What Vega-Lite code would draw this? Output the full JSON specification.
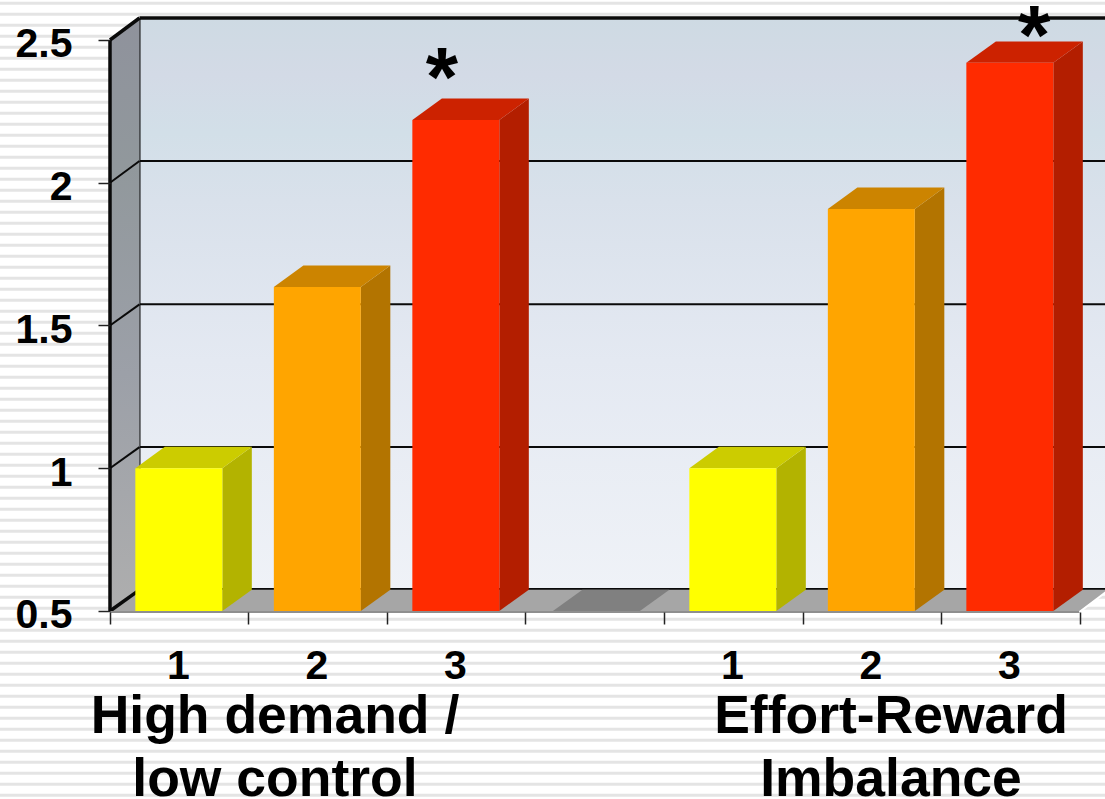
{
  "$schema": "https://vega.github.io/schema/vega-lite/v6.json",
  "width": 1105,
  "height": 799,
  "autosize": {"type": "none"},
  "padding": 0,
  "background": "#ffffff",
  "view": {"stroke": null},
  "config": {"font": "Liberation Sans", "text": {"font": "Liberation Sans"}},
  "datasets": {
    "stripes": [
      {"v":2.6285},{"v":2.59},{"v":2.5514},{"v":2.5129},{"v":2.4744},{"v":2.4359},{"v":2.3973},{"v":2.3588},{"v":2.3203},{"v":2.2817},
      {"v":2.2432},{"v":2.2047},{"v":2.1661},{"v":2.1276},{"v":2.0891},{"v":2.0506},{"v":2.012},{"v":1.9735},{"v":1.935},{"v":1.8964},
      {"v":1.8579},{"v":1.8194},{"v":1.7809},{"v":1.7423},{"v":1.7038},{"v":1.6653},{"v":1.6267},{"v":1.5882},{"v":1.5497},{"v":1.5111},
      {"v":1.4726},{"v":1.4341},{"v":1.3956},{"v":1.357},{"v":1.3185},{"v":1.28},{"v":1.2414},{"v":1.2029},{"v":1.1644},{"v":1.1258},
      {"v":1.0873},{"v":1.0488},{"v":1.0103},{"v":0.9717},{"v":0.9332},{"v":0.8947},{"v":0.8561},{"v":0.8176},{"v":0.7791},{"v":0.7405},
      {"v":0.702},{"v":0.6635},{"v":0.625},{"v":0.5864},{"v":0.5479},{"v":0.5094},{"v":0.4708},{"v":0.4323},{"v":0.3938},{"v":0.3552},
      {"v":0.3167},{"v":0.2782},{"v":0.2397},{"v":0.2011},{"v":0.1626},{"v":0.1241},{"v":0.0855},{"v":0.047},{"v":0.0085},{"v":-0.03},
      {"v":-0.0686},{"v":-0.1071},{"v":-0.1456}
    ],
    "frame": [
      {"x":0.213,"x2":7.1841,"y":0.574,"y2":0.574,"line":"edge"},
      {"x":0.213,"x2":7.1841,"y":1.074,"y2":1.074,"line":"thin"},
      {"x":0.213,"x2":7.1841,"y":1.574,"y2":1.574,"line":"thin"},
      {"x":0.213,"x2":7.1841,"y":2.076,"y2":2.076,"line":"thin"},
      {"x":0.213,"x2":7.1841,"y":2.577,"y2":2.577,"line":"edge"},
      {"x":0.213,"x2":0.213,"y":0.574,"y2":2.577,"line":"thin"}
    ],
    "wallEdges": [
      {"x":0,"x2":0.213,"y":0.5,"y2":0.574,"line":"edge"},
      {"x":0,"x2":0.213,"y":1,"y2":1.074,"line":"thin"},
      {"x":0,"x2":0.213,"y":1.5,"y2":1.574,"line":"thin"},
      {"x":0,"x2":0.213,"y":2,"y2":2.076,"line":"thin"},
      {"x":0,"x2":0.213,"y":2.5,"y2":2.577,"line":"edge"},
      {"x":0,"x2":0,"y":0.5,"y2":2.5,"line":"edge"}
    ],
    "bars": [
      {"bar":"a1","x":0.183,"x2":0.811,"value":1,"shade":"low front"},
      {"bar":"a2","x":1.183,"x2":1.811,"value":1.635,"shade":"mid front"},
      {"bar":"a3","x":2.183,"x2":2.811,"value":2.22,"shade":"high front"},
      {"bar":"b1","x":4.183,"x2":4.811,"value":1,"shade":"low front"},
      {"bar":"b2","x":5.183,"x2":5.811,"value":1.908,"shade":"mid front"},
      {"bar":"b3","x":6.183,"x2":6.811,"value":2.42,"shade":"high front"}
    ],
    "sides": [
      {"bar":"a1","x":0.811,"lo":0.5,"hi":1,"shade":"low side"},
      {"bar":"a1","x":1.024,"lo":0.574,"hi":1.075,"shade":"low side"},
      {"bar":"a2","x":1.811,"lo":0.5,"hi":1.635,"shade":"mid side"},
      {"bar":"a2","x":2.024,"lo":0.574,"hi":1.71,"shade":"mid side"},
      {"bar":"a3","x":2.811,"lo":0.5,"hi":2.22,"shade":"high side"},
      {"bar":"a3","x":3.024,"lo":0.574,"hi":2.295,"shade":"high side"},
      {"bar":"b1","x":4.811,"lo":0.5,"hi":1,"shade":"low side"},
      {"bar":"b1","x":5.024,"lo":0.574,"hi":1.075,"shade":"low side"},
      {"bar":"b2","x":5.811,"lo":0.5,"hi":1.908,"shade":"mid side"},
      {"bar":"b2","x":6.024,"lo":0.574,"hi":1.983,"shade":"mid side"},
      {"bar":"b3","x":6.811,"lo":0.5,"hi":2.42,"shade":"high side"},
      {"bar":"b3","x":7.024,"lo":0.574,"hi":2.495,"shade":"high side"}
    ],
    "tops": [
      {"bar":"a1","y":1,"x":0.183,"x2":0.811,"shade":"low top"},
      {"bar":"a1","y":1.075,"x":0.396,"x2":1.024,"shade":"low top"},
      {"bar":"a2","y":1.635,"x":1.183,"x2":1.811,"shade":"mid top"},
      {"bar":"a2","y":1.71,"x":1.396,"x2":2.024,"shade":"mid top"},
      {"bar":"a3","y":2.22,"x":2.183,"x2":2.811,"shade":"high top"},
      {"bar":"a3","y":2.295,"x":2.396,"x2":3.024,"shade":"high top"},
      {"bar":"gap","y":0.5,"x":3.198,"x2":3.826,"shade":"gap top"},
      {"bar":"gap","y":0.574,"x":3.411,"x2":4.039,"shade":"gap top"},
      {"bar":"b1","y":1,"x":4.183,"x2":4.811,"shade":"low top"},
      {"bar":"b1","y":1.075,"x":4.396,"x2":5.024,"shade":"low top"},
      {"bar":"b2","y":1.908,"x":5.183,"x2":5.811,"shade":"mid top"},
      {"bar":"b2","y":1.983,"x":5.396,"x2":6.024,"shade":"mid top"},
      {"bar":"b3","y":2.42,"x":6.183,"x2":6.811,"shade":"high top"},
      {"bar":"b3","y":2.495,"x":6.396,"x2":7.024,"shade":"high top"}
    ]
  },
  "layer": [
    {
      "data": {"name": "stripes"},
      "mark": {"type": "rule", "color": "#e4e4e4", "strokeWidth": 3},
      "encoding": {
        "y": {
          "field": "v", "type": "quantitative",
          "scale": {"domain": [-0.1585, 2.6401], "nice": false, "zero": false},
          "axis": {
            "title": null, "orient": "left", "offset": -110, "zindex": 1,
            "values": [0.5, 1, 1.5, 2, 2.5], "format": "~g",
            "domain": false, "grid": false,
            "tickSize": 12, "tickWidth": 1.5, "tickColor": "#222222",
            "labelFont": "Liberation Sans", "labelFontWeight": "bold", "labelFontSize": 41,
            "labelColor": "#000000", "labelPadding": 26, "labelOffset": 5,
            "labelOverlap": false, "labelFlush": false, "labelBound": false
          }
        }
      }
    },
    {
      "data": {"values": [{"x": 0.213, "x2": 7.1841, "y": 0.574, "y2": 2.577}]},
      "mark": {
        "type": "rect",
        "color": {
          "gradient": "linear", "x1": 0, "y1": 0, "x2": 0, "y2": 1,
          "stops": [
            {"offset": 0, "color": "#cedae3"},
            {"offset": 0.1, "color": "#d3dae6"},
            {"offset": 0.2, "color": "#d2dfe8"},
            {"offset": 0.32, "color": "#d9e1eb"},
            {"offset": 0.6, "color": "#e4e9f2"},
            {"offset": 1, "color": "#eff2f7"}
          ]
        }
      },
      "encoding": {
        "x": {
          "field": "x", "type": "quantitative",
          "scale": {"domain": [-0.7942, 7.1841], "nice": false, "zero": false},
          "axis": {
            "title": null, "orient": "bottom", "offset": -187, "zindex": 1,
            "values": [0, 1, 2, 3, 4, 5, 6, 7],
            "labelExpr": "datum.value % 4 == 3 ? '' : '' + (datum.value % 4 + 1)",
            "domain": false, "grid": false,
            "tickSize": 12, "tickWidth": 1.5, "tickColor": "#222222",
            "labelFont": "Liberation Sans", "labelFontWeight": "bold", "labelFontSize": 41,
            "labelColor": "#000000", "labelBaseline": "alphabetic", "labelPadding": 54,
            "labelOffset": 68, "labelOverlap": false, "labelFlush": false, "labelBound": false
          }
        },
        "x2": {"field": "x2"},
        "y": {"field": "y", "type": "quantitative", "axis": {"title": null}, "scale": {"domain": [-0.1585, 2.6401], "nice": false, "zero": false}},
        "y2": {"field": "y2"}
      }
    },
    {
      "data": {"name": "frame"},
      "mark": {"type": "rule", "color": "#0a0a0a"},
      "encoding": {
        "x": {"field": "x", "type": "quantitative", "axis": {"title": null}, "scale": {"domain": [-0.7942, 7.1841], "nice": false, "zero": false}},
        "x2": {"field": "x2"},
        "y": {"field": "y", "type": "quantitative", "axis": {"title": null}, "scale": {"domain": [-0.1585, 2.6401], "nice": false, "zero": false}},
        "y2": {"field": "y2"},
        "strokeWidth": {"field": "line", "type": "nominal", "legend": null, "scale": {"domain": ["thin", "edge"], "range": [2, 3.5]}}
      }
    },
    {
      "data": {"values": [
        {"x": 0, "lo": 0.5, "hi": 2.5},
        {"x": 0.213, "lo": 0.574, "hi": 2.577}
      ]},
      "mark": {
        "type": "area",
        "color": {
          "gradient": "linear", "x1": 0, "y1": 0, "x2": 0, "y2": 1,
          "stops": [
            {"offset": 0, "color": "#8f929c"},
            {"offset": 0.25, "color": "#91989c"},
            {"offset": 0.6, "color": "#9ca0a8"},
            {"offset": 1, "color": "#aeaeae"}
          ]
        }
      },
      "encoding": {
        "x": {"field": "x", "type": "quantitative", "axis": {"title": null}, "scale": {"domain": [-0.7942, 7.1841], "nice": false, "zero": false}},
        "y": {"field": "lo", "type": "quantitative", "axis": {"title": null}, "scale": {"domain": [-0.1585, 2.6401], "nice": false, "zero": false}},
        "y2": {"field": "hi"}
      }
    },
    {
      "data": {"values": [
        {"y": 0.5, "x": 0, "x2": 7},
        {"y": 0.574, "x": 0.213, "x2": 7.213}
      ]},
      "mark": {"type": "area", "orient": "horizontal", "color": "#a6a6a6", "clip": true},
      "encoding": {
        "y": {"field": "y", "type": "quantitative", "axis": {"title": null}, "scale": {"domain": [-0.1585, 2.6401], "nice": false, "zero": false}},
        "x": {"field": "x", "type": "quantitative", "axis": {"title": null}, "scale": {"domain": [-0.7942, 7.1841], "nice": false, "zero": false}},
        "x2": {"field": "x2"}
      }
    },
    {
      "data": {"name": "wallEdges"},
      "mark": {"type": "rule", "color": "#0a0a0a"},
      "encoding": {
        "x": {"field": "x", "type": "quantitative", "axis": {"title": null}, "scale": {"domain": [-0.7942, 7.1841], "nice": false, "zero": false}},
        "x2": {"field": "x2"},
        "y": {"field": "y", "type": "quantitative", "axis": {"title": null}, "scale": {"domain": [-0.1585, 2.6401], "nice": false, "zero": false}},
        "y2": {"field": "y2"},
        "strokeWidth": {"field": "line", "type": "nominal", "legend": null, "scale": {"domain": ["thin", "edge"], "range": [2, 3.5]}}
      }
    },
    {
      "data": {"values": [{"x": 0, "x2": 7, "y": 0.4965, "y2": 0.4965}]},
      "mark": {"type": "rule", "strokeWidth": 2, "color": "#8e8e8e"},
      "encoding": {
        "x": {"field": "x", "type": "quantitative", "axis": {"title": null}, "scale": {"domain": [-0.7942, 7.1841], "nice": false, "zero": false}},
        "x2": {"field": "x2"},
        "y": {"field": "y", "type": "quantitative", "axis": {"title": null}, "scale": {"domain": [-0.1585, 2.6401], "nice": false, "zero": false}},
        "y2": {"field": "y2"}
      }
    },
    {
      "data": {"values": [{"x": 7, "x2": 7.213, "y": 0.4965, "y2": 0.574}]},
      "mark": {"type": "rule", "strokeWidth": 2, "color": "#ffffff", "clip": true},
      "encoding": {
        "x": {"field": "x", "type": "quantitative", "axis": {"title": null}, "scale": {"domain": [-0.7942, 7.1841], "nice": false, "zero": false}},
        "x2": {"field": "x2"},
        "y": {"field": "y", "type": "quantitative", "axis": {"title": null}, "scale": {"domain": [-0.1585, 2.6401], "nice": false, "zero": false}},
        "y2": {"field": "y2"}
      }
    },
    {
      "data": {"name": "sides"},
      "mark": {"type": "area"},
      "encoding": {
        "x": {"field": "x", "type": "quantitative", "axis": {"title": null}, "scale": {"domain": [-0.7942, 7.1841], "nice": false, "zero": false}},
        "y": {"field": "lo", "type": "quantitative", "axis": {"title": null}, "scale": {"domain": [-0.1585, 2.6401], "nice": false, "zero": false}},
        "y2": {"field": "hi"},
        "detail": {"field": "bar"},
        "color": {
          "field": "shade", "type": "nominal", "legend": null,
          "scale": {
            "domain": ["low front", "low top", "low side", "mid front", "mid top", "mid side", "high front", "high top", "high side", "gap top"],
            "range": ["#ffff00", "#cccc00", "#b3b300", "#ffa500", "#cc8400", "#b37400", "#ff2b00", "#cc2200", "#b31e00", "#808080"]
          }
        }
      }
    },
    {
      "data": {"name": "tops"},
      "mark": {"type": "area", "orient": "horizontal"},
      "encoding": {
        "y": {"field": "y", "type": "quantitative", "axis": {"title": null}, "scale": {"domain": [-0.1585, 2.6401], "nice": false, "zero": false}},
        "x": {"field": "x", "type": "quantitative", "axis": {"title": null}, "scale": {"domain": [-0.7942, 7.1841], "nice": false, "zero": false}},
        "x2": {"field": "x2"},
        "detail": {"field": "bar"},
        "color": {
          "field": "shade", "type": "nominal", "legend": null,
          "scale": {
            "domain": ["low front", "low top", "low side", "mid front", "mid top", "mid side", "high front", "high top", "high side", "gap top"],
            "range": ["#ffff00", "#cccc00", "#b3b300", "#ffa500", "#cc8400", "#b37400", "#ff2b00", "#cc2200", "#b31e00", "#808080"]
          }
        }
      }
    },
    {
      "data": {"name": "bars"},
      "mark": {"type": "bar"},
      "encoding": {
        "x": {"field": "x", "type": "quantitative", "axis": {"title": null}, "scale": {"domain": [-0.7942, 7.1841], "nice": false, "zero": false}},
        "x2": {"field": "x2"},
        "y": {"field": "value", "type": "quantitative", "axis": {"title": null}, "scale": {"domain": [-0.1585, 2.6401], "nice": false, "zero": false}},
        "y2": {"datum": 0.5},
        "color": {
          "field": "shade", "type": "nominal", "legend": null,
          "scale": {
            "domain": ["low front", "low top", "low side", "mid front", "mid top", "mid side", "high front", "high top", "high side", "gap top"],
            "range": ["#ffff00", "#cccc00", "#b3b300", "#ffa500", "#cc8400", "#b37400", "#ff2b00", "#cc2200", "#b31e00", "#808080"]
          }
        }
      }
    },
    {
      "data": {"values": [
        {"x": 2.397, "y": 2.27, "label": "*"},
        {"x": 6.672, "y": 2.415, "label": "*"}
      ]},
      "mark": {"type": "text", "font": "Liberation Sans", "fontWeight": "bold", "fontSize": 83, "color": "#000000", "align": "center", "baseline": "alphabetic"},
      "encoding": {
        "x": {"field": "x", "type": "quantitative", "axis": {"title": null}, "scale": {"domain": [-0.7942, 7.1841], "nice": false, "zero": false}},
        "y": {"field": "y", "type": "quantitative", "axis": {"title": null}, "scale": {"domain": [-0.1585, 2.6401], "nice": false, "zero": false}},
        "text": {"field": "label"}
      }
    },
    {
      "data": {"values": [
        {"x": 1.191, "y": 0.0727, "label": "High demand /"},
        {"x": 1.191, "y": -0.148, "label": "low control"},
        {"x": 5.639, "y": 0.0727, "label": "Effort-Reward"},
        {"x": 5.639, "y": -0.148, "label": "Imbalance"}
      ]},
      "mark": {"type": "text", "font": "Liberation Sans", "fontWeight": "bold", "fontSize": 53.5, "color": "#000000", "align": "center", "baseline": "alphabetic"},
      "encoding": {
        "x": {"field": "x", "type": "quantitative", "axis": {"title": null}, "scale": {"domain": [-0.7942, 7.1841], "nice": false, "zero": false}},
        "y": {"field": "y", "type": "quantitative", "axis": {"title": null}, "scale": {"domain": [-0.1585, 2.6401], "nice": false, "zero": false}},
        "text": {"field": "label"}
      }
    }
  ]
}
